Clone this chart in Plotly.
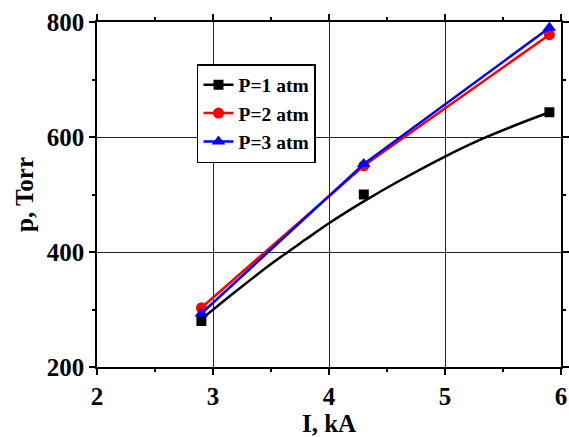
import plotly.graph_objects as go

# measured points
current_ka = [2.9, 4.3, 5.9]
p1_atm = [280, 500, 643]
p2_atm = [303, 550, 778]
p3_atm = [293, 553, 790]

# black fit curve
fit_x = [2.9, 3.2, 3.5, 3.8, 4.0, 4.3, 4.6, 5.0, 5.3, 5.6, 5.9]
fit_y = [283, 332, 379, 422, 450, 488, 523, 566, 595, 620, 643]

series_names = ["P=1 atm", "P=2 atm", "P=3 atm"]
x_ticks = [2, 3, 4, 5, 6]
y_ticks = [200, 400, 600, 800]

font_family = "Liberation Serif"


def bfont(size):
    return dict(family=font_family, size=size, color="black", weight=700)


fig = go.Figure()

# P=1 fit line
fig.add_trace(go.Scatter(x=fit_x, y=fit_y, mode="lines",
                         line=dict(color="black", width=2.5, shape="spline", smoothing=1.0),
                         showlegend=False, hoverinfo="skip"))
fig.add_trace(go.Scatter(x=current_ka, y=p1_atm, mode="markers",
                         marker=dict(symbol="square", size=10, color="black"),
                         showlegend=False))
fig.add_trace(go.Scatter(x=[None], y=[None], mode="lines+markers",
                         name=series_names[0],
                         line=dict(color="black", width=2.5),
                         marker=dict(symbol="square", size=10, color="black")))

fig.add_trace(go.Scatter(x=current_ka, y=p2_atm, mode="lines+markers",
                         name=series_names[1],
                         line=dict(color="#ff0000", width=2.5),
                         marker=dict(symbol="circle", size=11, color="#ff0000")))
fig.add_trace(go.Scatter(x=current_ka, y=p3_atm, mode="lines+markers",
                         name=series_names[2],
                         line=dict(color="#0000ff", width=2.5),
                         marker=dict(symbol="triangle-up", size=12, color="#0000ff")))

axis_common = dict(
    showline=True, linecolor="black", linewidth=1.5, mirror="ticks",
    ticks="outside", ticklen=6, tickwidth=1.5, tickcolor="black",
    showgrid=True, gridcolor="#222222", gridwidth=1,
    zeroline=False, automargin=False,
    tickfont=bfont(25),
)

fig.update_xaxes(**axis_common, range=[2, 6], tickvals=x_ticks,
                 minor=dict(ticks="outside", ticklen=3, tickwidth=1.5, tickcolor="black",
                            dtick=0.5, showgrid=False),
                 title=dict(text="I, kA", standoff=4, font=bfont(25)))
fig.update_yaxes(**axis_common, range=[200, 800], tickvals=y_ticks,
                 minor=dict(ticks="outside", ticklen=3, tickwidth=1.5, tickcolor="black",
                            dtick=100, showgrid=False),
                 title=dict(text="p, Torr", standoff=6, font=bfont(25)))

fig.update_layout(
    width=569, height=437,
    margin=dict(l=97, r=8, t=22, b=70),
    paper_bgcolor="white", plot_bgcolor="white",
    font=dict(family=font_family, color="black", weight=700),
    legend=dict(x=0.2155, y=0.878, xanchor="left", yanchor="top",
                bgcolor="white", bordercolor="black", borderwidth=1.5,
                font=bfont(19.5),
                tracegroupgap=0, itemwidth=30),
    showlegend=True,
)

fig.write_html("out.html")
